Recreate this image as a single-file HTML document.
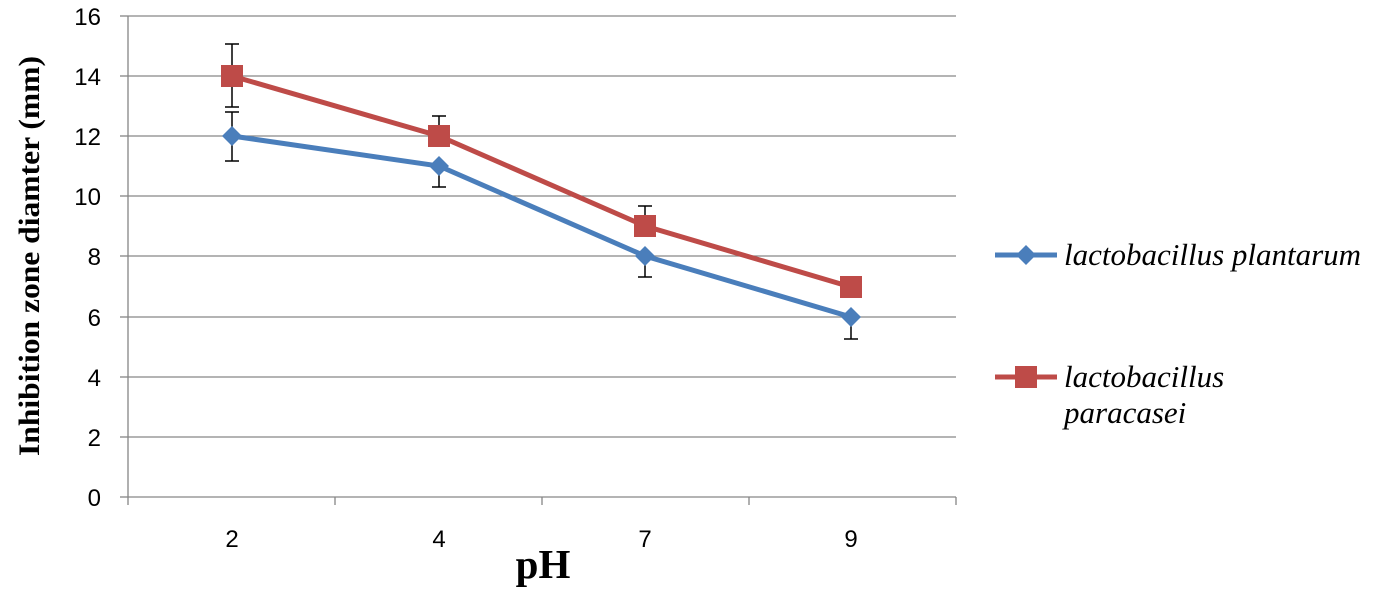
<!DOCTYPE html>
<html><head><meta charset="utf-8"><style>
body{margin:0;background:#fff;}
svg text{font-family:"Liberation Sans",sans-serif;}
</style></head><body>
<svg width="1373" height="593" xmlns="http://www.w3.org/2000/svg">
<g stroke="#868686" stroke-width="1.3">
<line x1="128" y1="16" x2="956" y2="16"/>
<line x1="128" y1="76" x2="956" y2="76"/>
<line x1="128" y1="136" x2="956" y2="136"/>
<line x1="128" y1="196" x2="956" y2="196"/>
<line x1="128" y1="256" x2="956" y2="256"/>
<line x1="128" y1="317" x2="956" y2="317"/>
<line x1="128" y1="377" x2="956" y2="377"/>
<line x1="128" y1="437" x2="956" y2="437"/>
<line x1="128" y1="497" x2="956" y2="497"/>
<line x1="128" y1="16" x2="128" y2="505"/>
<line x1="120" y1="16" x2="128" y2="16"/><line x1="120" y1="76" x2="128" y2="76"/><line x1="120" y1="136" x2="128" y2="136"/><line x1="120" y1="196" x2="128" y2="196"/><line x1="120" y1="256" x2="128" y2="256"/><line x1="120" y1="317" x2="128" y2="317"/><line x1="120" y1="377" x2="128" y2="377"/><line x1="120" y1="437" x2="128" y2="437"/><line x1="120" y1="497" x2="128" y2="497"/>
<line x1="335" y1="497" x2="335" y2="505"/><line x1="542" y1="497" x2="542" y2="505"/><line x1="749" y1="497" x2="749" y2="505"/><line x1="956" y1="497" x2="956" y2="505"/>
</g>
<g font-size="24" text-anchor="end" fill="#000">
<text x="101" y="25">16</text><text x="101" y="85">14</text><text x="101" y="145">12</text><text x="101" y="205">10</text><text x="101" y="265">8</text><text x="101" y="326">6</text><text x="101" y="386">4</text><text x="101" y="446">2</text><text x="101" y="506">0</text>
</g>
<g font-size="24" text-anchor="middle">
<text x="232" y="547">2</text><text x="439" y="547">4</text><text x="645" y="547">7</text><text x="851" y="547">9</text>
</g>
<text x="543" y="578" font-size="41" font-weight="bold" text-anchor="middle" style="font-family:'Liberation Serif',serif">pH</text>
<text transform="translate(39,256) rotate(-90)" font-size="30" font-weight="bold" text-anchor="middle" style="font-family:'Liberation Serif',serif" textLength="400" lengthAdjust="spacingAndGlyphs">Inhibition zone diamter (mm)</text>
<polyline points="232,136 439,166 645,256 851,317" fill="none" stroke="#4a7ebb" stroke-width="5"/>
<polyline points="232,76 439,136 645,226 851,287" fill="none" stroke="#be4b48" stroke-width="5"/>
<g stroke="#000" stroke-width="1.5">
<line x1="232" y1="112" x2="232" y2="161"/><line x1="225" y1="161" x2="239" y2="161"/><line x1="225" y1="112" x2="239" y2="112"/>
<line x1="439" y1="166" x2="439" y2="187"/><line x1="432" y1="187" x2="446" y2="187"/>
<line x1="645" y1="256" x2="645" y2="277"/><line x1="638" y1="277" x2="652" y2="277"/>
<line x1="851" y1="317" x2="851" y2="339"/><line x1="844" y1="339" x2="858" y2="339"/>
<line x1="232" y1="44" x2="232" y2="107"/><line x1="225" y1="44" x2="239" y2="44"/><line x1="225" y1="107" x2="239" y2="107"/>
<line x1="439" y1="116" x2="439" y2="136"/><line x1="432" y1="116" x2="446" y2="116"/>
<line x1="645" y1="206" x2="645" y2="226"/><line x1="638" y1="206" x2="652" y2="206"/>
</g>
<g fill="#4a7ebb">
<polygon points="232,126 242,136 232,146 222,136"/>
<polygon points="439,156 449,166 439,176 429,166"/>
<polygon points="645,246 655,256 645,266 635,256"/>
<polygon points="851,307 861,317 851,327 841,317"/>
</g>
<g fill="#be4b48">
<rect x="221" y="65" width="22" height="22"/>
<rect x="428" y="125" width="22" height="22"/>
<rect x="634" y="215" width="22" height="22"/>
<rect x="840" y="276" width="22" height="22"/>
</g>
<line x1="995" y1="255" x2="1057" y2="255" stroke="#4a7ebb" stroke-width="5"/>
<polygon points="1026,245 1036,255 1026,265 1016,255" fill="#4a7ebb"/>
<line x1="995" y1="377" x2="1057" y2="377" stroke="#be4b48" stroke-width="5"/>
<rect x="1015" y="366" width="22" height="22" fill="#be4b48"/>
<g font-size="31" font-style="italic">
<text x="1064" y="265" style="font-family:'Liberation Serif',serif">lactobacillus plantarum</text>
<text x="1064" y="387" style="font-family:'Liberation Serif',serif">lactobacillus</text>
<text x="1064" y="423" style="font-family:'Liberation Serif',serif">paracasei</text>
</g>
</svg>
</body></html>
